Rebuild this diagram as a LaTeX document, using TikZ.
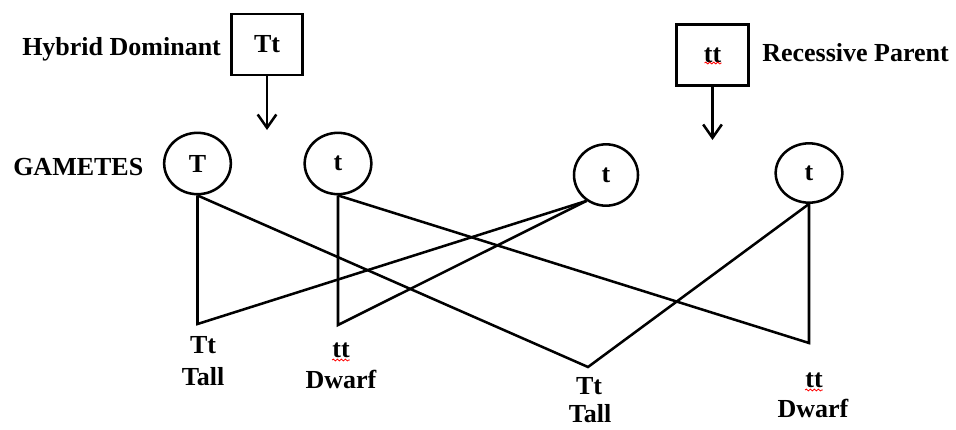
\documentclass[tikz,border=0pt]{standalone}
\usepackage{fontspec}
\setmainfont{Liberation Serif}
\usetikzlibrary{shapes.geometric,arrows.meta,decorations.pathmorphing}

\begin{document}
\begin{tikzpicture}[x=0.75pt,y=-0.75pt,
  font=\fontsize{19.5}{23}\selectfont\bfseries,
  wire/.style={line width=1.9pt, line join=miter},
  parentbox/.style={draw, line width=1.9pt, rectangle, minimum width=53pt, minimum height=45.5pt, inner sep=0pt},
  gamete/.style={draw, line width=1.9pt, ellipse, minimum width=50pt, minimum height=46pt, inner sep=0pt},
  caption/.style={anchor=base, inner sep=0pt},
  sidelabel/.style={anchor=base west, inner sep=0pt},
  squig/.style={red, line width=0.6pt, decorate, decoration={snake, segment length=3pt, amplitude=0.7pt}},
  pointer/.style={line width=1.9pt, -{Straight Barb[length=10pt, width=14pt]}}
]
\useasboundingbox (0,0) rectangle (956,429);

% parents
\node[parentbox] (hd) at (267,44.5) {Tt};
\node[sidelabel] (hdlabel) at (22,55) {Hybrid Dominant};
\node[parentbox, minimum width=54pt, minimum height=46pt] (rp) at (712.5,55) {tt};
\node[sidelabel] (rplabel) at (762,61) {Recessive Parent};
\draw[squig] ([shift={(-8,8)}]rp.center) -- ([shift={(9,8)}]rp.center);

% arrows from parents towards the gametes
\coordinate (hdend) at (hd.south |- 0,130);
\coordinate (rpend) at (rp.south |- 0,140);
\draw[pointer] (hd.south) -- (hdend);
\draw[pointer] (rp.south) -- (rpend);

% gametes
\node[sidelabel] (gamlabel) at (13,175) {GAMETES};
\node[gamete] (gT) at (197.5,163.5) {T};
\node[gamete] (g1) at (338,163.5) {t};
\node[gamete, minimum width=48pt, minimum height=46pt] (g3) at (606,175) {t};
\node[gamete, minimum width=50pt, minimum height=44.5pt] (g4) at (809,173) {t};

% offspring vertices
\coordinate (v1) at (197.5,324);
\coordinate (v2) at (338,325);
\coordinate (v3) at (588,367);
\coordinate (v4) at (809,343);

% crosses
\draw[wire] (gT.south) -- (v1) -- (g3.-127);
\draw[wire] (g1.south) -- (v2) -- (g3.-127);
\draw[wire] (gT.south) -- (v3) -- (g4.south);
\draw[wire] (g1.south) -- (v4) -- (g4.south);

% offspring labels
\node[caption] (o1a) at (203,353) {Tt};
\node[caption] (o1b) at (203,385) {Tall};
\node[caption] (o2a) at (341,357) {tt};
\node[caption] (o2b) at (341,388) {Dwarf};
\node[caption] (o3a) at (589,394) {Tt};
\node[caption] (o3b) at (590,422) {Tall};
\node[caption] (o4a) at (814,387) {tt};
\node[caption] (o4b) at (813,417) {Dwarf};
\draw[squig] ([shift={(0,3)}]o2a.base west) -- ([shift={(0,3)}]o2a.base east);
\draw[squig] ([shift={(0,3)}]o4a.base west) -- ([shift={(0,3)}]o4a.base east);
\end{tikzpicture}
\end{document}
